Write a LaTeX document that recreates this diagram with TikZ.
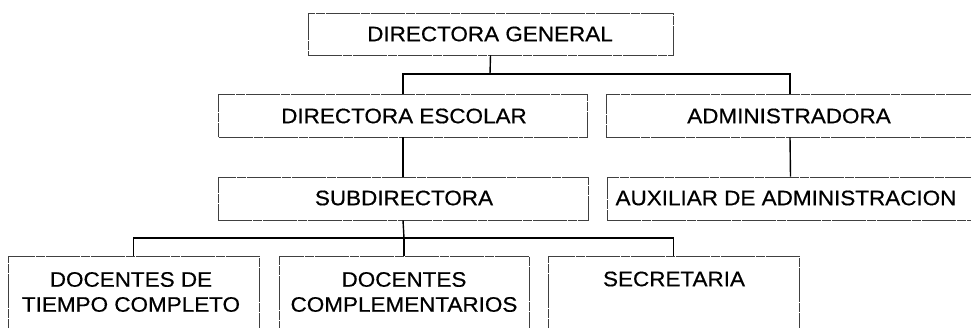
\documentclass[tikz,border=0pt]{standalone}
\usepackage{fontspec}
\setmainfont{Liberation Sans}[FakeStretch=1.07,FakeBold=0.5]
\begin{document}
\begin{tikzpicture}[x=1pt,y=-1pt,
  box/.style={draw=black!75, line width=0.7pt, dash pattern=on 34pt off 1pt on 9pt off 1pt, rectangle, inner sep=0pt},
  lbl/.style={font=\fontsize{21}{25}\selectfont, align=center, inner sep=0pt},
  conn/.style={draw=black, line width=1.4pt}]
\useasboundingbox (0,0) rectangle (971,327);
\clip (0,0) rectangle (971,327);
% boxes
\node[box, minimum width=365pt, minimum height=42pt] (dg) at (490.5,34) {};
\node[box, minimum width=369pt, minimum height=43pt] (de) at (403,115.5) {};
\node[box, minimum width=368pt, minimum height=43pt] (adm) at (790,115.5) {};
\node[box, minimum width=370pt, minimum height=43pt] (sub) at (403,198.5) {};
\node[box, minimum width=367pt, minimum height=43pt] (aux) at (790.5,198.5) {};
\node[box, minimum width=251pt, minimum height=110pt] (dtc) at (133.5,311) {};
\node[box, minimum width=250pt, minimum height=110pt] (dc) at (404,311) {};
\node[box, minimum width=251pt, minimum height=110pt] (sec) at (673.5,311) {};
% labels
\node[lbl] (tdg) at (490,34) {DIRECTORA GENERAL};
\node[lbl] (tde) at (404,116) {DIRECTORA ESCOLAR};
\node[lbl] (tadm) at (789,116) {ADMINISTRADORA};
\node[lbl] (tsub) at (404,198) {SUBDIRECTORA};
\node[lbl] (taux) at (786,198) {AUXILIAR DE ADMINISTRACION};
\node[lbl] (tdtc) at (131,292) {DOCENTES DE\\TIEMPO COMPLETO};
\node[lbl] (tdc) at (404,292) {DOCENTES\\COMPLEMENTARIOS};
\node[lbl] (tsec) at (674,279) {SECRETARIA};
% connectors
\coordinate (b1) at (490,74);
\coordinate (b2) at (404,238);
\draw[conn] (dg.south) -- (b1);
\draw[conn] (de.north) |- (b1) -| (adm.north);
\draw[conn] (de.south) -- (sub.north);
\draw[conn] (adm.south) -- (aux.north);
\draw[conn] (sub.south) -- (b2);
\draw[conn] (dtc.north) |- (b2) -| (sec.north);
\draw[conn] (b2) -- (dc.north);
\end{tikzpicture}
\end{document}
